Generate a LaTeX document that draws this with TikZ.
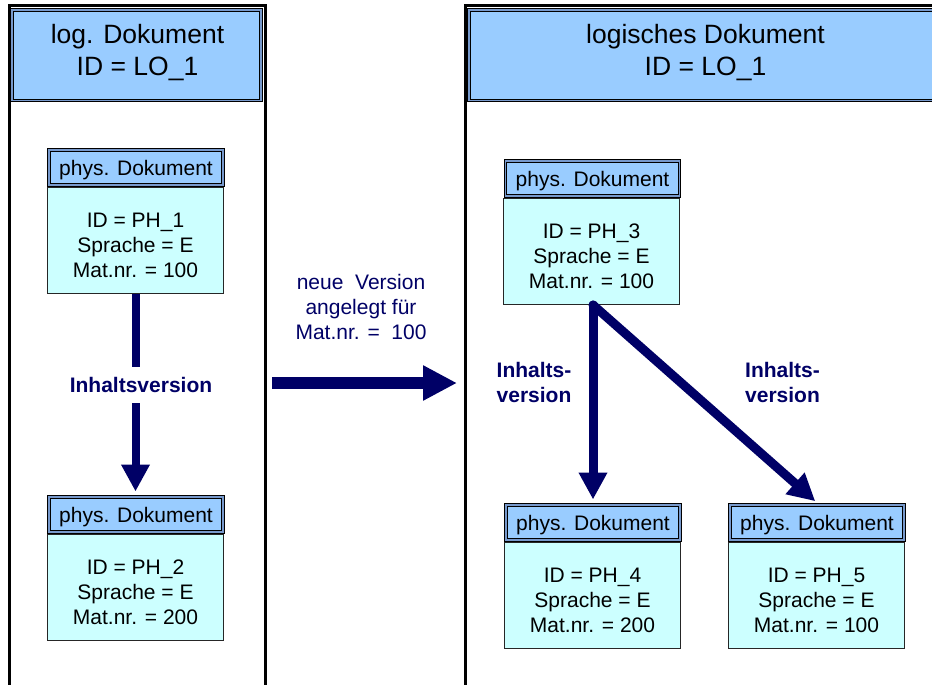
\documentclass[tikz,border=0pt]{standalone}
\usepackage{fontspec}
\setmainfont{Liberation Sans}
\usetikzlibrary{arrows.meta,calc}
\definecolor{hdrblue}{HTML}{99CCFF}
\definecolor{bodycyan}{HTML}{CCFFFF}
\definecolor{rimblue}{HTML}{7799CC}
\definecolor{navy}{HTML}{000066}
\begin{document}
\begin{tikzpicture}[x=1pt,y=-1pt,
  outerbox/.style={rectangle, draw=black, line width=3pt, inner sep=0pt},
  bighdr/.style={rectangle, inner sep=0pt, fill=hdrblue, draw=black, line width=1.2pt, double=rimblue, double distance=1.4pt},
  dochdr/.style={rectangle, fill=hdrblue, draw=black, line width=1pt, double=rimblue, double distance=1.6pt,
    minimum width=174pt, minimum height=35pt, inner sep=0pt, text depth=0pt, font=\fontsize{21}{25}\selectfont},
  docbody/.style={rectangle, fill=bodycyan, draw=black!85, line width=1pt, minimum width=176pt,
    minimum height=106pt, inner sep=0pt, anchor=north west},
  doctext/.style={align=center, font=\fontsize{21}{25}\selectfont, inner sep=0pt},
  bigtext/.style={align=center, font=\fontsize{26.5}{32}\selectfont, inner sep=0pt},
  navytext/.style={align=center, text=navy, font=\fontsize{21}{25}\selectfont, inner sep=0pt},
  navybold/.style={align=center, text=navy, font=\fontsize{21}{25}\selectfont\bfseries, inner sep=0pt},
  fat/.style={draw=navy, line width=#1},
  tipA/.style={-{Triangle[length=27pt,width=27pt]}},
  tipB/.style={-{Triangle[length=34pt,width=33pt]}},
]
\fill[white] (0,0) rectangle (932,685);
\useasboundingbox (0,0) rectangle (932,685);
\clip (0,0) rectangle (932,685);

% outer containers
\node[outerbox, minimum width=256pt, minimum height=714pt] (L) at (137,363) {};
\node[outerbox, minimum width=535pt, minimum height=714pt] (R) at (732.5,363) {};
\node[bighdr, minimum width=249pt, minimum height=90.5pt] (LH) at (136.5,55.25) {};
\node[bighdr, minimum width=531pt, minimum height=90.5pt] (RH) at (734.5,55.25) {};
\node[bigtext] (LT) at (137.5,53) {log. Dokument\\ID = LO\_1};
\node[bigtext] (RT) at (705.5,53) {logisches Dokument\\ID = LO\_1};

% doc 1
\node[docbody] (b1) at (47,187) {};
\node[dochdr] (h1) at (136,167.5) {phys. Dokument};
\node[doctext] (t1) at ($(b1.center)+(0,5)$) {ID = PH\_1\\Sprache = E\\Mat.nr. = 100};
% doc 2
\node[docbody] (b2) at (47,534) {};
\node[dochdr] (h2) at (136,514.5) {phys. Dokument};
\node[doctext] (t2) at ($(b2.center)+(0,5)$) {ID = PH\_2\\Sprache = E\\Mat.nr. = 200};
% doc 3
\node[docbody] (b3) at (503,198) {};
\node[dochdr] (h3) at (592.5,178.5) {phys. Dokument};
\node[doctext] (t3) at ($(b3.center)+(0,5)$) {ID = PH\_3\\Sprache = E\\Mat.nr. = 100};
% doc 4
\node[docbody] (b4) at (504,542) {};
\node[dochdr] (h4) at (593,522.5) {phys. Dokument};
\node[doctext] (t4) at ($(b4.center)+(0,5)$) {ID = PH\_4\\Sprache = E\\Mat.nr. = 200};
% doc 5
\node[docbody] (b5) at (728,542) {};
\node[dochdr] (h5) at (817,522.5) {phys. Dokument};
\node[doctext] (t5) at ($(b5.center)+(0,5)$) {ID = PH\_5\\Sprache = E\\Mat.nr. = 100};

% left connector
\draw[fat=8pt, tipA, shorten >=5pt] (b1.south) -- (b1.south |- h2.north);
\node[navybold, fill=white, inner xsep=3pt, inner ysep=10.5pt] (lab1) at (141,385) {Inhaltsversion};

% middle connector
\coordinate (ha) at (272,383);
\coordinate (hb) at (457,383);
\draw[fat=12pt, tipB] (ha) -- (hb);
\node[navytext] (nv) at (361,307) {neue\ \ Version\\angelegt für\\Mat.nr. =\ \ 100};

% right connectors
\coordinate (s3) at (h4.north |- b3.south);
\draw[fat=9pt, tipA, line cap=round, shorten >=5pt] (s3) -- (h4.north);
\draw[fat=9pt, tipA, line cap=round, shorten >=5pt] (s3) -- ([xshift=2pt]h5.north);
\node[navybold] (lab3) at (534,382) {Inhalts-\\version};
\node[navybold] (lab4) at (782.5,382) {Inhalts-\\version};
\end{tikzpicture}
\end{document}
